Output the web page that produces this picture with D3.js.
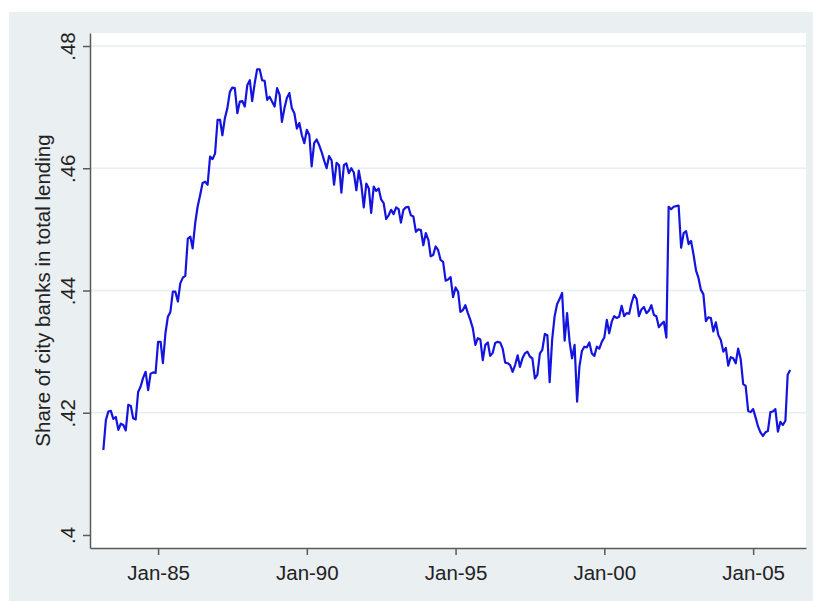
<!DOCTYPE html>
<html>
<head>
<meta charset="utf-8">
<script src="https://cdn.jsdelivr.net/npm/d3@7"></script>
<style>
  html, body { margin: 0; padding: 0; background: #ffffff; }
  svg { display: block; }
  text { font-family: "Liberation Sans", Arial, Helvetica, sans-serif; }
</style>
</head>
<body>
<div id="chart"></div>
<script>
// ---- data (monthly, starting March 1983) ----
const startYear = 1983;
const startMonth = 3; // March
const shareValues = [
  0.4139, 0.4188, 0.4202, 0.4203, 0.4190, 0.4193, 0.4172, 0.4182, 0.4180, 0.4171,
  0.4213, 0.4211, 0.4191, 0.4189, 0.4234, 0.4243, 0.4257, 0.4267, 0.4237, 0.4264,
  0.4266, 0.4265, 0.4316, 0.4316, 0.4281, 0.4330, 0.4357, 0.4365, 0.4398, 0.4398,
  0.4382, 0.4412, 0.4421, 0.4424, 0.4485, 0.4488, 0.4469, 0.4510, 0.4537, 0.4556,
  0.4576, 0.4578, 0.4573, 0.4619, 0.4615, 0.4624, 0.4679, 0.4679, 0.4654, 0.4682,
  0.4698, 0.4725, 0.4732, 0.4731, 0.4690, 0.4709, 0.4710, 0.4701, 0.4736, 0.4744,
  0.4710, 0.4739, 0.4762, 0.4762, 0.4744, 0.4743, 0.4712, 0.4717, 0.4709, 0.4701,
  0.4731, 0.4720, 0.4676, 0.4698, 0.4715, 0.4723, 0.4698, 0.4690, 0.4665, 0.4674,
  0.4654, 0.4641, 0.4663, 0.4654, 0.4603, 0.4641, 0.4647, 0.4638, 0.4627, 0.4613,
  0.4600, 0.4620, 0.4613, 0.4573, 0.4609, 0.4605, 0.4560, 0.4605, 0.4608, 0.4592,
  0.4600, 0.4593, 0.4564, 0.4596, 0.4573, 0.4536, 0.4575, 0.4567, 0.4527, 0.4570,
  0.4563, 0.4567, 0.4549, 0.4543, 0.4517, 0.4523, 0.4532, 0.4525, 0.4536, 0.4533,
  0.4511, 0.4532, 0.4536, 0.4537, 0.4523, 0.4521, 0.4496, 0.4500, 0.4499, 0.4474,
  0.4494, 0.4483, 0.4456, 0.4458, 0.4472, 0.4466, 0.4450, 0.4447, 0.4416, 0.4418,
  0.4422, 0.4389, 0.4405, 0.4398, 0.4365, 0.4368, 0.4376, 0.4363, 0.4352, 0.4338,
  0.4311, 0.4322, 0.4320, 0.4286, 0.4311, 0.4315, 0.4293, 0.4298, 0.4314, 0.4316,
  0.4315, 0.4305, 0.4282, 0.4281, 0.4278, 0.4267, 0.4278, 0.4294, 0.4275, 0.4289,
  0.4297, 0.4300, 0.4292, 0.4289, 0.4256, 0.4262, 0.4297, 0.4303, 0.4329, 0.4327,
  0.4250, 0.4320, 0.4358, 0.4378, 0.4386, 0.4396, 0.4318, 0.4363, 0.4316, 0.4289,
  0.4311, 0.4218, 0.4275, 0.4301, 0.4308, 0.4307, 0.4315, 0.4297, 0.4293, 0.4308,
  0.4305, 0.4316, 0.4323, 0.4352, 0.4330, 0.4349, 0.4358, 0.4355, 0.4357, 0.4375,
  0.4358, 0.4363, 0.4362, 0.4380, 0.4393, 0.4386, 0.4358, 0.4369, 0.4373, 0.4363,
  0.4367, 0.4376, 0.4360, 0.4358, 0.4340, 0.4345, 0.4349, 0.4323, 0.4537, 0.4533,
  0.4537, 0.4538, 0.4539, 0.4470, 0.4494, 0.4497, 0.4476, 0.4481, 0.4458, 0.4432,
  0.4421, 0.4401, 0.4394, 0.4350, 0.4356, 0.4355, 0.4333, 0.4348, 0.4327, 0.4319,
  0.4300, 0.4306, 0.4277, 0.4291, 0.4289, 0.4281, 0.4305, 0.4288, 0.4247, 0.4244,
  0.4203, 0.4201, 0.4206, 0.4192, 0.4178, 0.4168, 0.4162, 0.4168, 0.4170, 0.4201,
  0.4202, 0.4206, 0.4169, 0.4185, 0.4180, 0.4187, 0.4262, 0.4270
];
const yTickValues = [0.40, 0.42, 0.44, 0.46, 0.48];
const yTickLabels = [".4", ".42", ".44", ".46", ".48"];
const xTickYears = [1985, 1990, 1995, 2000, 2005];
const xTickLabels = ["Jan-85", "Jan-90", "Jan-95", "Jan-00", "Jan-05"];
const yTitle = "Share of city banks in total lending";

// ---- layout ----
const W = 813, H = 601;
const outer = { x: 9, y: 12 };
const plot = { left: 90, top: 33, right: 806, bottom: 548 };

const data = shareValues.map((v, i) => ({
  date: new Date(startYear, startMonth - 1 + i, 1),
  value: v
}));

const svg = d3.select("#chart").append("svg")
  .attr("width", W).attr("height", H);

svg.append("rect").attr("x", outer.x).attr("y", outer.y)
  .attr("width", W - outer.x).attr("height", H - outer.y)
  .attr("fill", "#eaeff2");

svg.append("rect").attr("x", plot.left).attr("y", plot.top)
  .attr("width", plot.right - plot.left).attr("height", plot.bottom - plot.top)
  .attr("fill", "#ffffff");

const x = d3.scaleTime()
  .domain([new Date(1982, 8, 18), new Date(2006, 9, 12)])
  .range([plot.left, plot.right]);

const y = d3.scaleLinear()
  .domain([0.39787, 0.48213])
  .range([plot.bottom, plot.top]);

// gridlines
svg.append("g").selectAll("line")
  .data(yTickValues.slice(1))
  .join("line")
  .attr("x1", plot.left).attr("x2", plot.right)
  .attr("y1", d => y(d)).attr("y2", d => y(d))
  .attr("stroke", "#e8edef").attr("stroke-width", 1.5);

// line
svg.append("path")
  .datum(data)
  .attr("fill", "none")
  .attr("stroke", "#1414e0")
  .attr("stroke-width", 2.2)
  .attr("stroke-linejoin", "round")
  .attr("d", d3.line().x(d => x(d.date)).y(d => y(d.value)));

// y axis
const yAxis = svg.append("g")
  .attr("transform", `translate(${plot.left},0)`)
  .call(d3.axisLeft(y).tickValues(yTickValues)
    .tickFormat((d, i) => yTickLabels[i]).tickSize(7).tickSizeOuter(0));
yAxis.select(".domain").attr("stroke", "#5a5a5a").attr("stroke-width", 1.5);
yAxis.selectAll(".tick line").attr("stroke", "#5a5a5a").attr("stroke-width", 1.5);
yAxis.selectAll(".tick text")
  .attr("transform", "rotate(-90)")
  .attr("x", 0).attr("y", -15).attr("dy", 0)
  .attr("text-anchor", "middle")
  .attr("font-size", 20.5)
  .attr("fill", "#222222");

// x axis
const xAxis = svg.append("g")
  .attr("transform", `translate(0,${plot.bottom})`)
  .call(d3.axisBottom(x).tickValues(xTickYears.map(yr => new Date(yr, 0, 1)))
    .tickFormat((d, i) => xTickLabels[i]).tickSize(7).tickSizeOuter(0));
xAxis.select(".domain").attr("stroke", "#5a5a5a").attr("stroke-width", 1.5);
xAxis.selectAll(".tick line").attr("stroke", "#5a5a5a").attr("stroke-width", 1.5);
xAxis.selectAll(".tick text")
  .attr("y", 32).attr("dy", 0)
  .attr("font-size", 20.5)
  .attr("fill", "#222222");

// y title
svg.append("text")
  .attr("transform", `translate(49.5,${(plot.top + plot.bottom) / 2}) rotate(-90)`)
  .attr("text-anchor", "middle")
  .attr("font-size", 20.5)
  .attr("fill", "#222222")
  .text(yTitle);
</script>
</body>
</html>
